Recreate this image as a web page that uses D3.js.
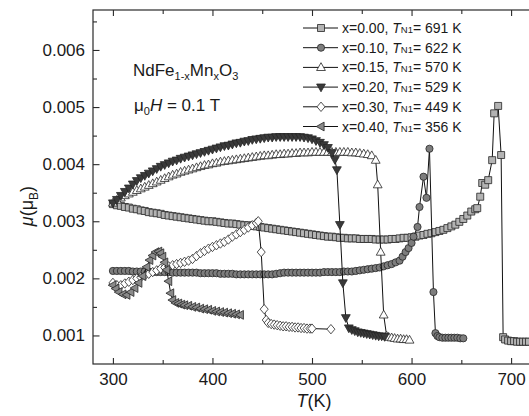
<!DOCTYPE html>
<html>
<head>
<meta charset="utf-8">
<script src="https://cdn.jsdelivr.net/npm/d3@7/dist/d3.min.js"></script>
<style>
  body { margin: 0; background: #fff; }
  svg { display: block; }
  text { font-family: "Liberation Sans", Arial, Helvetica, sans-serif; fill: #1a1a1a; }
</style>
</head>
<body>
<svg id="chart" width="529" height="416"></svg>
<script>
// Magnetic moment of NdFe(1-x)Mn(x)O3 vs temperature, mu0H = 0.1 T.
// Temperatures in K, moments in units of 10^-3 muB.

const compositions = ["0.00", "0.10", "0.15", "0.20", "0.30", "0.40"];
const neelTemps = [691, 622, 570, 529, 449, 356];

// x = 0.00
const temp0 = [300,304,308,312,316,320,324,328,332,336,340,344,348,352,356,360,364,368,372,376,380,384,388,392,396,400,404,408,412,416,420,424,428,432,436,440,444,448,452,456,460,464,468,472,476,480,484,488,492,496,500,504,508,512,516,520,524,528,532,536,540,544,548,552,556,560,564,568,572,576,580,584,588,592,596,600,604,608,612,616,620,624,628,632,636,640,644,648,652,656,660,664,666,669,671,674,677,681,683,687,690,692,694,697,700,703,706,709,712,715,718];
const mu0   = [3.30,3.28,3.27,3.25,3.24,3.22,3.21,3.19,3.18,3.16,3.15,3.14,3.13,3.11,3.10,3.09,3.08,3.07,3.06,3.05,3.04,3.03,3.02,3.01,3.00,3.00,2.99,2.98,2.97,2.96,2.96,2.95,2.94,2.93,2.93,2.92,2.91,2.90,2.89,2.88,2.87,2.86,2.85,2.84,2.83,2.82,2.81,2.80,2.79,2.78,2.77,2.76,2.75,2.74,2.73,2.73,2.72,2.71,2.71,2.70,2.70,2.70,2.69,2.69,2.69,2.69,2.68,2.68,2.68,2.68,2.69,2.69,2.70,2.71,2.71,2.72,2.73,2.75,2.76,2.78,2.79,2.81,2.83,2.85,2.88,2.91,2.94,2.99,3.04,3.10,3.17,3.21,3.23,3.43,3.67,3.64,3.72,4.07,4.89,5.02,4.16,0.97,0.93,0.91,0.90,0.90,0.89,0.89,0.89,0.89,0.89];

// x = 0.10
const temp1 = [300,304,308,312,316,320,324,328,332,336,340,344,348,352,356,360,364,368,372,376,380,384,388,392,396,400,404,408,412,416,420,424,428,432,436,440,444,448,452,456,460,464,468,472,476,480,484,488,492,496,500,504,508,512,516,520,524,528,532,536,540,544,548,552,556,560,564,568,572,576,580,584,588,591,594,597,600,602,606,608,612,615,618,622,624,626,628,631,634,637,640,643,646,649,652];
const mu1   = [2.13,2.13,2.13,2.13,2.13,2.12,2.12,2.12,2.12,2.12,2.11,2.11,2.11,2.11,2.11,2.10,2.10,2.10,2.10,2.10,2.10,2.10,2.09,2.09,2.09,2.09,2.09,2.08,2.08,2.08,2.08,2.07,2.07,2.07,2.07,2.07,2.07,2.07,2.07,2.07,2.07,2.08,2.09,2.10,2.10,2.10,2.10,2.10,2.10,2.10,2.10,2.10,2.10,2.11,2.11,2.11,2.11,2.11,2.12,2.12,2.12,2.13,2.14,2.15,2.16,2.17,2.18,2.19,2.21,2.23,2.25,2.28,2.31,2.38,2.46,2.53,2.62,2.73,2.90,3.25,3.78,3.41,4.27,1.76,1.04,0.99,0.97,0.96,0.96,0.96,0.96,0.96,0.96,0.95,0.95];

// x = 0.15
const temp2 = [300,304,308,312,316,320,324,328,332,336,340,344,348,352,356,360,364,368,372,376,380,384,388,392,396,400,404,408,412,416,420,424,428,432,436,440,444,448,452,456,460,464,468,472,476,480,484,488,492,496,500,504,508,512,516,520,524,528,532,536,540,544,548,552,556,560,564,566,569,572,575,577,580,583,586,589,592,595,598];
const mu2   = [3.32,3.37,3.41,3.45,3.48,3.51,3.54,3.57,3.60,3.63,3.66,3.69,3.72,3.75,3.78,3.81,3.83,3.86,3.88,3.90,3.92,3.94,3.96,3.98,3.99,4.01,4.02,4.04,4.05,4.06,4.07,4.08,4.09,4.10,4.11,4.12,4.13,4.14,4.15,4.15,4.16,4.17,4.17,4.18,4.18,4.19,4.19,4.20,4.20,4.20,4.21,4.21,4.21,4.21,4.21,4.21,4.21,4.21,4.21,4.21,4.20,4.20,4.19,4.18,4.17,4.15,4.07,3.64,2.46,1.36,0.99,0.97,0.96,0.95,0.94,0.94,0.93,0.93,0.92];

// x = 0.20
const temp3 = [300,304,308,312,316,320,324,328,332,336,340,344,348,352,356,360,364,368,372,376,380,384,388,392,396,400,404,408,412,416,420,424,428,432,436,440,444,448,452,456,460,464,468,472,476,480,484,488,492,496,500,504,508,512,516,520,523,525,528,531,534,537,540,543,546,549,552,555,558,561,564,567,570,573];
const mu3   = [3.32,3.38,3.45,3.52,3.58,3.65,3.71,3.76,3.80,3.84,3.88,3.92,3.96,3.99,4.02,4.05,4.07,4.10,4.12,4.14,4.16,4.18,4.20,4.22,4.24,4.26,4.28,4.30,4.32,4.33,4.35,4.37,4.38,4.40,4.41,4.43,4.44,4.45,4.46,4.47,4.47,4.48,4.48,4.48,4.48,4.48,4.48,4.48,4.47,4.46,4.44,4.41,4.38,4.34,4.29,4.20,4.08,3.90,2.94,1.92,1.31,1.13,1.10,1.08,1.06,1.05,1.04,1.03,1.02,1.01,1.00,0.99,0.99,0.98];

// x = 0.30
const temp4 = [300,304,308,312,316,320,324,328,332,336,340,344,348,352,356,360,364,368,372,376,380,384,388,392,396,400,404,408,412,416,420,424,428,432,436,440,444,446,449,452,454,456,459,462,465,468,471,474,477,480,483,486,489,492,495,498,500,519];
const mu4   = [1.92,1.88,1.88,1.91,1.94,1.97,2.00,2.02,2.05,2.08,2.11,2.14,2.17,2.19,2.21,2.23,2.25,2.27,2.29,2.31,2.34,2.39,2.44,2.48,2.52,2.55,2.58,2.61,2.64,2.68,2.73,2.77,2.81,2.85,2.89,2.93,2.97,3.00,2.46,1.46,1.27,1.22,1.20,1.19,1.18,1.17,1.16,1.16,1.15,1.15,1.14,1.14,1.13,1.13,1.12,1.12,1.12,1.11];

// x = 0.40
const temp5 = [300,303,306,310,314,318,322,326,330,334,337,340,343,346,348,350,352,354,356,358,360,363,366,369,372,376,380,384,388,392,396,400,404,408,412,416,420,424,428];
const mu5   = [1.88,1.82,1.76,1.72,1.71,1.76,1.83,1.92,2.04,2.20,2.32,2.40,2.46,2.47,2.44,2.38,2.28,2.15,1.95,1.74,1.62,1.57,1.56,1.54,1.53,1.52,1.50,1.49,1.47,1.46,1.45,1.43,1.42,1.41,1.40,1.39,1.38,1.37,1.36];

const xTicks = [300, 400, 500, 600, 700];
const yTicks = [1, 2, 3, 4, 5, 6];

// marker outlines, centred on the data point
const shapes = {
  square:   "M-3.5,-3.5h7v7h-7Z",
  circle:   "M3.6,0A3.6,3.6 0 1 1 -3.6,0A3.6,3.6 0 1 1 3.6,0Z",
  triUp:    "M0,-4.7L4.4,3.1L-4.4,3.1Z",
  triDown:  "M0,4.7L4.4,-3.1L-4.4,-3.1Z",
  diamond:  "M0,-4.7L4,0L0,4.7L-4,0Z",
  triLeft:  "M-4.7,0L3.1,-4.4L3.1,4.4Z"
};

const series = [
  { temps: temp0, mus: mu0, shape: "square",  fill: "#b3b3b3" },
  { temps: temp1, mus: mu1, shape: "circle",  fill: "#7d7d7d" },
  { temps: temp2, mus: mu2, shape: "triUp",   fill: "#ffffff" },
  { temps: temp3, mus: mu3, shape: "triDown", fill: "#3a3a3a" },
  { temps: temp4, mus: mu4, shape: "diamond", fill: "#ffffff" },
  { temps: temp5, mus: mu5, shape: "triLeft", fill: "#8a8a8a" }
];

const svg = d3.select("#chart");
const plotL = 93, plotR = 531, plotT = 10, plotB = 364;

const x = d3.scaleLinear().domain([280, 720]).range([plotL, plotR]);
const y = d3.scaleLinear().domain([0.5, 6.7]).range([plotB, plotT]);

svg.append("defs").append("clipPath").attr("id", "plotClip")
  .append("rect").attr("x", plotL).attr("y", plotT)
  .attr("width", plotR - plotL).attr("height", plotB - plotT);

const plot = svg.append("g").attr("clip-path", "url(#plotClip)");
const line = d3.line().x(d => x(d[0])).y(d => y(d[1]));

series.forEach(s => {
  const pts = s.temps.map((t, i) => [t, s.mus[i]]);
  const g = plot.append("g");
  g.append("path").datum(pts).attr("d", line)
    .attr("fill", "none").attr("stroke", "#111").attr("stroke-width", 1);
  g.selectAll("path.mk").data(pts).join("path").attr("class", "mk")
    .attr("d", shapes[s.shape])
    .attr("transform", d => `translate(${x(d[0])},${y(d[1])})`)
    .attr("fill", s.fill).attr("stroke", "#262626").attr("stroke-width", 0.8);
});

// frame
svg.append("rect").attr("x", plotL).attr("y", plotT)
  .attr("width", plotR - plotL).attr("height", plotB - plotT)
  .attr("fill", "none").attr("stroke", "#2a2a2a").attr("stroke-width", 1.2);

// axes with inward ticks
const xMinorVals = [350, 450, 550, 650];
svg.append("g").attr("transform", `translate(0,${plotB})`)
  .call(d3.axisBottom(x).tickValues(xTicks).tickSize(-6).tickPadding(9).tickFormat(d3.format("d")));
svg.append("g").attr("transform", `translate(0,${plotB})`)
  .call(d3.axisBottom(x).tickValues(xMinorVals).tickSize(-4).tickFormat(""));
svg.append("g").attr("transform", `translate(0,${plotT})`)
  .call(d3.axisTop(x).tickValues(xTicks).tickSize(-6).tickFormat(""));
svg.append("g").attr("transform", `translate(0,${plotT})`)
  .call(d3.axisTop(x).tickValues(xMinorVals).tickSize(-4).tickFormat(""));

svg.append("g").attr("transform", `translate(${plotL},0)`)
  .call(d3.axisLeft(y).tickValues(yTicks).tickSize(-6.5).tickPadding(8)
    .tickFormat(v => (v / 1000).toFixed(3)));
svg.append("g").attr("transform", `translate(${plotL},0)`)
  .call(d3.axisLeft(y).tickValues([1.5, 2.5, 3.5, 4.5, 5.5, 6.5]).tickSize(-4).tickFormat(""));

svg.selectAll(".domain").remove();
svg.selectAll(".tick line").attr("stroke", "#2a2a2a").attr("stroke-width", 1.1);
svg.selectAll(".tick text").attr("font-size", 17).attr("fill", "#1a1a1a")
  .style("font-family", '"Liberation Sans", Arial, sans-serif');

// axis titles
const xt = svg.append("text").attr("x", 314).attr("y", 407).attr("text-anchor", "middle").attr("font-size", 18);
xt.append("tspan").attr("font-style", "italic").text("T");
xt.append("tspan").text("(K)");

const yt = svg.append("text").attr("transform", "translate(33,206) rotate(-90)")
  .attr("text-anchor", "middle").attr("font-size", 18);
yt.append("tspan").attr("font-style", "italic").text("μ");
yt.append("tspan").text("(μ");
yt.append("tspan").attr("font-size", 12).attr("dy", 5).text("B");
yt.append("tspan").attr("dy", -5).text(")");

// sample description
const comp = svg.append("text").attr("x", 133).attr("y", 76).attr("font-size", 17);
comp.append("tspan").text("NdFe");
comp.append("tspan").attr("font-size", 11).attr("dy", 4).text("1-x");
comp.append("tspan").attr("dy", -4).text("Mn");
comp.append("tspan").attr("font-size", 11).attr("dy", 4).text("x");
comp.append("tspan").attr("dy", -4).text("O");
comp.append("tspan").attr("font-size", 11).attr("dy", 4).text("3");

const field = svg.append("text").attr("x", 134).attr("y", 111).attr("font-size", 17);
field.append("tspan").text("μ");
field.append("tspan").attr("font-size", 11).attr("dy", 4).text("0");
field.append("tspan").attr("dy", -4).attr("font-style", "italic").text("H");
field.append("tspan").text(" = 0.1 T");

// legend
const legend = svg.append("g");
series.forEach((s, i) => {
  const ly = 28 + i * 19.7;
  legend.append("line").attr("x1", 303).attr("x2", 338).attr("y1", ly).attr("y2", ly)
    .attr("stroke", "#111").attr("stroke-width", 1);
  legend.append("path").attr("d", shapes[s.shape])
    .attr("transform", `translate(321,${ly})`)
    .attr("fill", s.fill).attr("stroke", "#262626").attr("stroke-width", 0.8);
  const t = legend.append("text").attr("x", 342).attr("y", ly + 5).attr("font-size", 14);
  t.append("tspan").text(`x=${compositions[i]}, `);
  t.append("tspan").attr("font-style", "italic").text("T");
  t.append("tspan").attr("font-size", 9.5).text("N1");
  t.append("tspan").text(`= ${neelTemps[i]} K`);
});
</script>
</body>
</html>
